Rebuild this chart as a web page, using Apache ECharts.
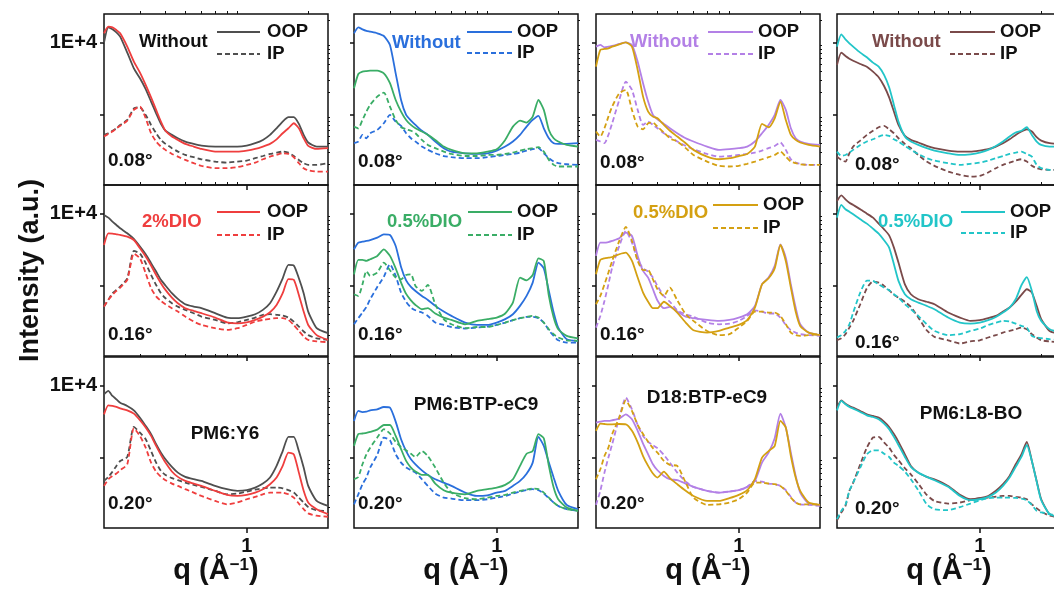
<!DOCTYPE html>
<html>
<head>
<meta charset="utf-8">
<script src="https://cdn.jsdelivr.net/npm/echarts@6/dist/echarts.min.js"></script>
<style>
  html, body { margin: 0; padding: 0; background: #fff; }
  #chart { width: 1054px; height: 590px; }
</style>
</head>
<body>
<div id="chart"></div>
<script>
// Scattering vector q (Å^-1), shared by every line cut
const q = [0.20, 0.21, 0.22, 0.23, 0.24, 0.26, 0.28, 0.30, 0.32, 0.34, 0.36, 0.38, 0.40, 0.43, 0.46, 0.50,
           0.55, 0.60, 0.70, 0.80, 0.90, 1.0, 1.1, 1.2, 1.3, 1.4, 1.5, 1.6, 1.7, 1.8, 1.9, 2.0, 2.2, 2.5];

// Text labels
const blends = ['PM6:Y6', 'PM6:BTP-eC9', 'D18:BTP-eC9', 'PM6:L8-BO'];
const angles = ['0.08°', '0.16°', '0.20°'];
const additives = ['2%DIO', '0.5%DIO', '0.5%DIO', '0.5%DIO'];
const withoutLabel = 'Without';
const yTickLabels = { 10000: '1E+4' };
const xTickLabels = { 1: '1' };

// ---- PM6:Y6 ----
const y6_008_w_oop = [9900,16150,15150,13750,11990,7190,4350,3160,2230,1500,1030,735,590,517,464,418,388,367,356,356,356,367,396,440,517,639,791,910,910,735,517,405,356,356];
const y6_008_w_ip  = [517,545,590,639,711,834,1210,1250,980,711,545,440,388,338,303,272,253,237,220,213,220,227,245,263,281,293,303,293,263,232,209,198,198,209];
const y6_008_d_oop = [13340,16500,16150,14830,13340,8710,5390,3790,2560,1720,1150,791,590,490,440,388,356,330,303,303,303,313,330,356,388,448,545,639,750,639,464,364,330,338];
const y6_008_d_ip  = [490,535,575,639,690,816,1150,1280,880,545,418,356,320,281,258,232,209,192,178,178,184,198,213,237,258,272,287,281,253,209,178,166,160,160];
const y6_016_w_oop = [9490,8710,7670,6890,6190,5280,4400,3450,2700,2030,1550,1190,990,775,646,545,505,480,409,356,349,367,396,455,563,817,1250,1920,1880,1250,775,431,253,216];
const y6_016_w_ip  = [505,628,775,862,960,1250,3000,2760,2030,1390,1010,775,660,563,505,455,409,367,330,296,306,330,356,388,396,388,379,356,313,267,228,203,183,174];
const y6_016_d_oop = [3630,5280,5220,5110,5000,4730,4260,3270,2510,1880,1390,1070,862,674,563,480,440,409,356,306,296,306,330,367,422,533,775,1220,1190,735,431,281,203,174];
const y6_016_d_ip  = [505,628,735,834,928,1190,2760,2370,1470,910,700,606,545,480,431,367,313,281,253,240,253,281,313,330,341,349,349,330,281,232,194,174,166,162];
const y6_020_w_oop = [7500,8350,7110,6390,5740,5170,4490,3550,2730,2100,1520,1160,938,735,612,534,495,469,400,360,342,349,379,431,523,758,1220,1920,1920,1220,719,400,248,211];
const y6_020_w_ip  = [469,534,632,758,889,1010,2640,2200,1780,1220,843,646,569,512,480,444,414,388,342,306,313,334,356,371,379,379,371,349,323,275,235,203,183,180];
const y6_020_d_oop = [3950,5280,5170,5000,4790,4490,4040,3270,2590,1980,1440,1080,843,634,534,469,431,400,342,300,290,300,323,360,422,523,758,1160,1100,612,342,235,190,162];
const y6_020_d_ip  = [400,495,551,594,660,799,2540,1980,1360,843,632,534,480,431,400,360,323,290,247,222,235,261,281,306,323,323,323,306,275,227,190,166,154,149];

// ---- PM6:BTP-eC9 ----
const pe_008_w_oop = [13340,16150,15150,14450,14070,13340,12240,9190,3710,1580,980,817,711,590,517,418,338,303,287,281,287,313,356,418,517,674,834,953,639,464,396,388,388,396];
const pe_008_w_ip  = [396,418,517,464,545,606,750,980,791,688,545,464,418,356,320,287,263,253,245,245,253,263,272,281,293,313,327,338,287,245,220,209,202,198];
const pe_008_d_oop = [2300,3630,3910,3990,4040,4040,3710,2700,1580,1090,834,711,639,575,517,440,356,320,287,287,303,327,440,674,817,766,928,1580,1150,606,464,418,375,356];
const pe_008_d_ip  = [674,639,834,1090,1350,1760,2000,1280,834,660,619,590,545,440,375,338,303,281,263,263,272,272,281,293,313,327,338,349,303,232,198,188,188,188];
const pe_016_w_oop = [3160,3910,4040,4130,4250,4590,5110,5000,3520,1800,1170,950,834,711,625,517,431,375,303,281,281,303,338,396,517,711,1090,2070,1710,834,418,258,178,169];
const pe_016_w_ip  = [287,349,418,500,639,947,1310,1960,1350,791,590,490,449,418,375,303,281,263,250,258,266,281,303,327,349,363,363,349,303,237,198,172,160,160];
const pe_016_d_oop = [1420,2250,2250,2180,2300,2560,3160,2560,1720,1090,758,618,533,464,480,405,356,330,287,320,338,356,405,575,1280,1170,1390,2370,2180,711,356,245,198,183];
const pe_016_d_ip  = [750,711,1030,1580,1350,1500,2070,1620,1280,1210,1390,1420,980,834,1010,545,338,287,253,263,263,281,303,327,349,363,375,356,303,245,209,188,172,169];
const pe_020_w_oop = [3200,4400,4250,4310,4490,4640,5000,4890,3130,1780,1220,938,799,658,569,495,444,400,323,290,296,323,342,400,469,590,843,1920,1440,843,523,342,218,190];
const pe_020_w_ip  = [222,306,422,523,719,1080,1880,1720,1100,843,719,660,612,495,400,313,275,267,253,253,261,275,290,313,334,349,360,349,313,270,235,211,190,180];
const pe_020_d_oop = [1440,2100,2140,2180,2250,2420,2810,2810,1980,1300,889,719,632,569,569,431,349,323,306,342,360,379,414,495,758,1120,1220,2100,1840,758,379,261,200,180];
const pe_020_d_ip  = [495,534,799,1100,1360,1880,2460,2140,1640,1390,1250,1120,1010,1220,1040,719,444,323,270,261,275,290,300,323,342,356,367,360,323,275,235,211,190,180];

// ---- D18:BTP-eC9 ----
const de_008_w_oop = [8710,9190,8530,8710,8900,9490,10000,9190,5390,2700,1500,980,850,735,639,545,464,418,356,320,327,338,356,418,545,711,980,1580,1150,639,464,418,388,375];
const de_008_w_ip  = [440,418,396,517,750,1580,2840,2180,1150,711,791,711,639,545,490,418,363,327,281,258,263,272,281,293,313,338,363,405,320,237,213,205,198,198];
const de_008_d_oop = [4590,7830,8080,8260,8710,9390,10000,8710,4130,1760,1090,928,880,711,590,490,396,320,258,237,245,263,281,356,735,660,880,1500,834,517,440,405,375,356];
const de_008_d_ip  = [575,490,639,928,1280,1960,2180,1150,674,619,750,766,674,558,464,418,338,272,220,192,188,192,205,220,237,253,272,303,258,220,209,202,198,198];
const de_016_w_oop = [2560,3910,3910,3990,4130,4490,5390,4840,2560,1580,1280,880,615,480,500,431,365,349,330,320,330,356,396,517,1030,1280,1860,3710,2420,1030,490,287,220,203];
const de_016_w_ip  = [258,375,606,1030,1760,3520,5680,3910,2250,1720,1550,1280,980,711,590,449,396,363,303,287,293,320,375,449,431,405,405,356,281,237,220,209,203,198];
const de_016_d_oop = [1420,2250,2370,2420,2470,2700,2840,2180,1280,791,590,480,480,590,517,418,303,237,220,232,258,281,327,490,1030,1250,1720,3630,2180,928,431,272,220,203];
const de_016_d_ip  = [545,711,1030,1500,2180,4130,6470,4130,2180,1620,1620,1210,880,711,928,619,396,320,232,203,209,258,320,431,431,418,418,375,287,220,203,198,203,209];
const de_020_w_oop = [3030,3130,3200,3200,3270,3450,3950,3370,2330,1550,1100,799,660,551,495,480,431,388,342,323,334,349,388,469,843,1160,1840,4040,2590,1160,551,323,227,218];
const de_020_w_ip  = [218,342,612,990,1520,3560,6740,4640,2810,1980,1640,1470,1340,1080,843,612,459,388,342,323,334,349,388,469,459,431,422,400,349,281,235,222,218,211];
const de_020_d_oop = [2330,2940,2900,2870,2870,2900,2870,2330,1610,1040,758,594,523,632,512,422,342,290,247,247,270,300,349,495,990,1220,1440,3200,2590,1040,523,342,235,218];
const de_020_d_ip  = [495,681,1040,1360,2100,3560,6190,4400,2810,2100,1640,1340,1160,889,783,758,444,275,218,222,235,261,323,444,444,431,422,400,342,275,235,222,222,222];

// ---- PM6:L8-BO ----
const l8_008_w_oop = [4840,7190,6460,5930,5550,5000,4590,3910,3270,2470,1720,1090,711,501,440,405,363,338,313,303,303,313,327,356,396,449,517,575,619,575,480,431,396,388];
const l8_008_w_ip  = [258,232,220,287,356,431,517,590,660,688,619,545,464,388,338,272,220,192,160,144,136,139,155,178,198,213,227,237,220,192,178,172,169,169];
const l8_008_d_oop = [8710,12920,11010,9690,8710,7190,6190,5220,4590,3520,2370,1350,791,490,418,375,338,313,287,272,278,293,320,363,418,490,558,590,660,517,418,375,356,356];
const l8_008_d_ip  = [303,263,272,293,320,375,418,449,490,517,500,449,418,363,320,281,245,227,209,198,205,213,227,245,263,281,293,303,281,258,198,178,169,169];
const l8_016_w_oop = [14830,17800,15640,14070,13070,11370,9900,8710,7190,6000,4940,3340,2070,1030,750,639,590,545,418,356,320,327,349,375,431,490,590,735,880,791,517,338,232,209];
const l8_016_w_ip  = [172,183,209,258,320,545,910,1130,1090,980,853,735,674,590,500,356,237,192,172,155,166,172,188,203,220,232,245,258,245,209,188,172,166,160];
const l8_016_d_oop = [8710,13070,11370,10540,9690,8260,7190,6130,5220,4220,3340,1960,1150,750,639,575,517,464,356,303,293,303,327,363,418,490,639,1000,1300,834,440,320,245,220];
const l8_016_d_ip  = [188,203,232,287,418,791,1160,1150,1030,928,853,750,674,545,464,375,287,232,203,209,232,250,281,303,320,313,293,272,258,198,188,184,178,172];
const l8_020_w_oop = [4890,6190,5560,5170,4890,4400,3950,3750,3560,3130,2640,2100,1640,1100,758,612,534,495,400,300,261,270,290,342,422,551,799,1100,1640,889,469,261,162,146];
const l8_020_w_ip  = [133,171,211,342,444,799,1360,1880,1920,1610,1360,1080,910,704,580,431,300,247,227,235,253,270,275,284,290,290,281,275,261,222,196,176,154,146];
const l8_020_d_oop = [4490,6060,5450,5000,4740,4260,3830,3630,3370,2940,2460,1920,1480,1010,735,612,534,480,388,290,253,261,281,323,400,523,735,1010,1480,889,459,253,162,146];
const l8_020_d_ip  = [138,180,218,342,444,719,1100,1250,1250,1120,1010,843,758,632,495,349,222,190,184,203,227,253,270,275,275,275,272,267,253,218,180,171,162,154];

// Rows = incidence angle, columns = blend
const panels = [
  [[y6_008_w_oop, y6_008_w_ip, y6_008_d_oop, y6_008_d_ip], [pe_008_w_oop, pe_008_w_ip, pe_008_d_oop, pe_008_d_ip],
   [de_008_w_oop, de_008_w_ip, de_008_d_oop, de_008_d_ip], [l8_008_w_oop, l8_008_w_ip, l8_008_d_oop, l8_008_d_ip]],
  [[y6_016_w_oop, y6_016_w_ip, y6_016_d_oop, y6_016_d_ip], [pe_016_w_oop, pe_016_w_ip, pe_016_d_oop, pe_016_d_ip],
   [de_016_w_oop, de_016_w_ip, de_016_d_oop, de_016_d_ip], [l8_016_w_oop, l8_016_w_ip, l8_016_d_oop, l8_016_d_ip]],
  [[y6_020_w_oop, y6_020_w_ip, y6_020_d_oop, y6_020_d_ip], [pe_020_w_oop, pe_020_w_ip, pe_020_d_oop, pe_020_d_ip],
   [de_020_w_oop, de_020_w_ip, de_020_d_oop, de_020_d_ip], [l8_020_w_oop, l8_020_w_ip, l8_020_d_oop, l8_020_d_ip]]
];

// ---- styling / layout ----
const FONT = '"Liberation Sans", Arial, Helvetica, sans-serif';
const INK = '#111';
const withoutColors = ['#4f4f4f', '#2a6fdc', '#b380e6', '#7a4a4a'];
const dioColors     = ['#ef3e3e', '#3aad66', '#d4a012', '#22c5c8'];
const withoutTextColors = ['#111', '#2a6fdc', '#b380e6', '#7a4a4a'];

const colLeft = [104, 354, 596, 837];
const rowTop = [14, 185, 357];
const PW = 224, PH = 171;
const Y_MIN = 104, Y_MAX = 24750;

// legend layout per panel (offsets from panel corner):
// [condition text x, condition text y, line x1, line x2, OOP y, IP y, OOP/IP text x]
const legendLayout = [
  [[35, 28, 113, 156, 18, 40, 163], [38, 29, 113, 158, 18, 39, 163], [34, 28, 112, 157, 18, 40, 162], [35, 28, 113, 158, 18, 40, 163]],
  [[38, 37, 113, 156, 27, 50, 163], [33, 37, 114, 158, 27, 50, 163], [37, 28, 117, 162, 20, 43, 167], [41, 37, 124, 168, 27, 48, 173]]
];
const blendPos = [[121, 77], [122, 48], [111, 41], [134, 57]];
const angleX = [4, 4, 4, 18];
const angleY = [[147, 148, 149, 151], [150, 150, 150, 158], [147, 147, 147, 152]];

const grids = [], xAxes = [], yAxes = [], series = [], graphics = [];
const boldText = (size) => `bold ${size}px ${FONT}`;

for (let r = 0; r < 3; r++) {
  for (let c = 0; c < 4; c++) {
    const gi = r * 4 + c;
    const L = colLeft[c], T = rowTop[r];
    grids.push({ left: L, top: T, width: PW, height: PH, show: true, borderColor: INK, borderWidth: 1.5,
                 backgroundColor: 'transparent', containLabel: false, outerBoundsMode: 'none' });

    const bottomRow = r === 2;
    xAxes.push({
      type: 'log', logBase: 10, gridIndex: gi, min: 0.2, max: 2.5,
      axisLine: { show: false }, splitLine: { show: false },
      axisTick: { show: true, customValues: [1], length: 5, lineStyle: { color: INK, width: 1.5 } },
      axisLabel: { show: bottomRow, customValues: [1], formatter: v => xTickLabels[Math.round(v)] || '',
                   margin: 8, color: INK, fontSize: 20, fontWeight: 'bold', fontFamily: FONT },
      name: bottomRow ? 'q (Å{sup|−1})' : '', nameLocation: 'middle', nameGap: 28,
      nameTextStyle: { color: INK, fontSize: 29, fontWeight: 'bold', fontFamily: FONT,
                       rich: { sup: { fontSize: 17, fontWeight: 'bold', fontFamily: FONT, color: INK, verticalAlign: 'top', lineHeight: 17 } } }
    });
    xAxes.push({
      type: 'log', logBase: 10, gridIndex: gi, min: 0.2, max: 2.5,
      axisLine: { show: false }, splitLine: { show: false },
      axisTick: { show: true, customValues: [0.3, 0.4, 0.5, 0.6, 0.7, 0.8, 0.9, 2], length: 3, lineStyle: { color: INK, width: 1 } },
      axisLabel: { show: false }
    });

    const midLeft = (r === 1 && c === 0);
    yAxes.push({
      type: 'log', logBase: 10, gridIndex: gi, min: Y_MIN, max: Y_MAX,
      axisLine: { show: false }, splitLine: { show: false },
      axisTick: { show: true, customValues: [1000, 10000], length: 4, lineStyle: { color: INK, width: 1.5 } },
      axisLabel: { show: c === 0, customValues: [10000], formatter: v => yTickLabels[Math.round(v)] || '',
                   margin: 7, color: INK, fontSize: 20, fontWeight: 'bold', fontFamily: FONT },
      name: midLeft ? 'Intensity (a.u.)' : '', nameLocation: 'middle', nameRotate: 90, nameGap: 60,
      nameTextStyle: { color: INK, fontSize: 27, fontWeight: 'bold', fontFamily: FONT }
    });
    yAxes.push({
      type: 'log', logBase: 10, gridIndex: gi, min: Y_MIN, max: Y_MAX,
      axisLine: { show: false }, splitLine: { show: false },
      axisTick: { show: true, length: 2, lineStyle: { color: INK, width: 1 },
                  customValues: [200, 300, 400, 500, 600, 700, 800, 900, 2000, 3000, 4000, 5000, 6000, 7000, 8000, 9000, 20000] },
      axisLabel: { show: false }
    });

    const sets = panels[r][c];
    const styles = [
      { color: withoutColors[c], dashed: false }, { color: withoutColors[c], dashed: true },
      { color: dioColors[c], dashed: false },     { color: dioColors[c], dashed: true }
    ];
    sets.forEach((vals, k) => {
      series.push({
        type: 'line', xAxisIndex: 2 * gi, yAxisIndex: 2 * gi,
        data: q.map((x, i) => [x, vals[i]]),
        showSymbol: false, symbol: 'none', smooth: 0.2, silent: true, animation: false, z: 2 + k,
        lineStyle: { color: styles[k].color, width: 1.8, type: styles[k].dashed ? [5, 3] : 'solid' }
      });
    });

    // angle label
    graphics.push({ type: 'text', x: L + angleX[c], y: T + angleY[r][c], z: 100,
      style: { text: angles[r], font: boldText(19), fill: INK, textAlign: 'left', textVerticalAlign: 'middle' } });

    if (r < 2) {
      const [tx, ty, lx1, lx2, oy, iy, lbx] = legendLayout[r][c];
      const condText = r === 0 ? withoutLabel : additives[c];
      const condFill = r === 0 ? withoutTextColors[c] : dioColors[c];
      const lineColor = r === 0 ? withoutColors[c] : dioColors[c];
      graphics.push({ type: 'text', x: L + tx, y: T + ty, z: 100,
        style: { text: condText, font: boldText(18.5), fill: condFill, textAlign: 'left', textVerticalAlign: 'middle' } });
      graphics.push({ type: 'line', z: 100, shape: { x1: L + lx1, y1: T + oy, x2: L + lx2, y2: T + oy },
        style: { stroke: lineColor, lineWidth: 1.8 } });
      graphics.push({ type: 'line', z: 100, shape: { x1: L + lx1, y1: T + iy, x2: L + lx2, y2: T + iy },
        style: { stroke: lineColor, lineWidth: 1.8, lineDash: [5, 3] } });
      graphics.push({ type: 'text', x: L + lbx, y: T + oy, z: 100,
        style: { text: 'OOP', font: boldText(18.5), fill: INK, textAlign: 'left', textVerticalAlign: 'middle' } });
      graphics.push({ type: 'text', x: L + lbx, y: T + iy, z: 100,
        style: { text: 'IP', font: boldText(18.5), fill: INK, textAlign: 'left', textVerticalAlign: 'middle' } });
    } else {
      graphics.push({ type: 'text', x: L + blendPos[c][0], y: T + blendPos[c][1], z: 100,
        style: { text: blends[c], font: boldText(19), fill: INK, textAlign: 'center', textVerticalAlign: 'middle' } });
    }
  }
}

const chart = echarts.init(document.getElementById('chart'), null, { renderer: 'canvas' });
chart.setOption({
  animation: false,
  backgroundColor: '#fff',
  grid: grids,
  xAxis: xAxes,
  yAxis: yAxes,
  series: series,
  graphic: graphics
});
</script>
</body>
</html>
